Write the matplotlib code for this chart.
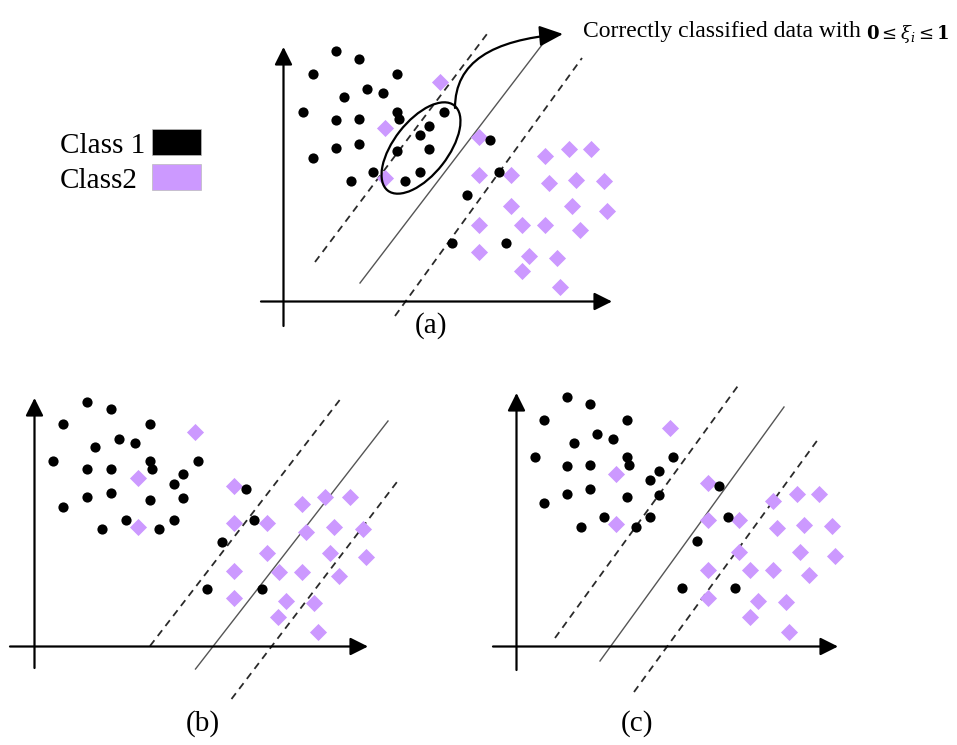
import matplotlib.pyplot as plt
from matplotlib.patches import Ellipse, Rectangle, FancyArrowPatch
from matplotlib.path import Path

# canvas units are pixels of the 957x745 picture (y grows downward)
W, H = 957, 745
PURPLE = '#cc99ff'

# ---- panel (a) ----
a_black_x = [336, 359, 313, 397, 367, 383, 344, 303, 336, 359, 397, 399, 444, 429, 420,
             336, 359, 397, 429, 313, 373, 351, 405, 420, 490, 499, 467, 452, 506]
a_black_y = [51, 59, 74, 74, 89, 93, 97, 112, 120, 119, 112, 119, 112, 126, 135,
             148, 144, 151, 149, 158, 172, 181, 181, 172, 140, 172, 195, 243, 243]
a_purple_x = [440, 385, 385, 479, 545, 569, 591, 479, 511, 549, 576, 604, 511, 572, 607,
              479, 522, 545, 580, 479, 529, 557, 522, 560]
a_purple_y = [82, 128, 178, 137, 156, 149, 149, 175, 175, 183, 180, 181, 206, 206, 211,
              225, 225, 225, 230, 252, 256, 258, 271, 287]
a_axes = dict(ox=283.5, oy=301.5, x0=261, x1=612, y0=326, y1=47)
a_lines = [((315, 262), (490, 30), 'dash'), ((360, 283), (548, 37), 'solid'),
           ((395, 316), (582, 58), 'dash')]

# ---- panel (b) ----
b_black_x = [87, 111, 63, 150, 119, 135, 95, 53, 87, 111, 150, 152, 198, 183, 174,
             87, 111, 150, 183, 63, 126, 102, 159, 174, 246, 254, 222, 207, 262]
b_black_y = [402, 409, 424, 424, 439, 443, 447, 461, 469, 469, 461, 469, 461, 474, 484,
             497, 493, 500, 498, 507, 520, 529, 529, 520, 489, 520, 542, 589, 589]
b_purple_x = [195, 138, 138, 234, 302, 325, 350, 234, 267, 306, 334, 363, 267, 330, 366,
              234, 279, 302, 339, 234, 286, 314, 278, 318]
b_purple_y = [432, 478, 527, 486, 504, 497, 497, 523, 523, 532, 527, 529, 553, 553, 557,
              571, 572, 572, 576, 598, 601, 603, 617, 632]
b_axes = dict(ox=34.5, oy=646.5, x0=10, x1=368, y0=668, y1=398)
b_lines = [((150, 646), (342, 397), 'dash'), ((195.5, 669), (388, 421), 'solid'),
           ((231.5, 699), (400, 478), 'dash')]

# ---- panel (c) ----
c_black_x = [567, 590, 544, 627, 597, 613, 574, 535, 567, 590, 627, 629, 673, 659, 650,
             567, 590, 627, 659, 544, 604, 581, 636, 650, 719, 728, 697, 682, 735]
c_black_y = [397, 404, 420, 420, 434, 439, 443, 457, 466, 465, 457, 465, 457, 471, 480,
             494, 489, 497, 495, 503, 517, 527, 527, 517, 486, 517, 541, 588, 588]
c_purple_x = [670, 616, 616, 708, 773, 797, 819, 708, 739, 777, 804, 832, 739, 800, 835,
              708, 750, 773, 809, 708, 758, 786, 750, 789]
c_purple_y = [428, 474, 524, 483, 501, 494, 494, 520, 520, 528, 525, 526, 552, 552, 556,
              570, 570, 570, 575, 598, 601, 602, 617, 632]
c_axes = dict(ox=516.5, oy=646.5, x0=493, x1=838, y0=670, y1=393)
c_lines = [((555, 638), (740, 383), 'dash'), ((600, 661), (784, 407), 'solid'),
           ((634, 692), (819, 438), 'dash')]

panel_labels = ['(a)', '(b)', '(c)']
panel_label_pos = [(431, 333), (203, 731), (637, 731)]

legend_labels = ['Class 1', 'Class2']
legend_colors = ['black', PURPLE]

plt.rcParams['font.family'] = ['Liberation Serif', 'DejaVu Serif']
plt.rcParams['mathtext.fontset'] = 'dejavuserif'

fig = plt.figure(figsize=(W / 100, H / 100), dpi=100, facecolor='white')
ax = fig.add_axes([0, 0, 1, 1])
ax.set_xlim(0, W)
ax.set_ylim(H, 0)
ax.axis('off')


def draw_axes(ax, spec):
    arrow = dict(arrowstyle='-|>,head_length=0.6,head_width=0.3', lw=1.6,
                 color='black', mutation_scale=18, shrinkA=0, shrinkB=0)
    ax.annotate('', xy=(spec['x1'], spec['oy']), xytext=(spec['x0'], spec['oy']),
                arrowprops=arrow)
    ax.annotate('', xy=(spec['ox'], spec['y1']), xytext=(spec['ox'], spec['y0']),
                arrowprops=arrow)


def draw_lines(ax, lines):
    for (x0, y0), (x1, y1), kind in lines:
        if kind == 'dash':
            ax.plot([x0, x1], [y0, y1], color='#2a2a2a', lw=1.3, dashes=(4, 3))
        else:
            ax.plot([x0, x1], [y0, y1], color='#555555', lw=1.0)


def draw_points(ax, bx, by, px, py):
    ax.scatter(px, py, marker='D', s=76, color=PURPLE, linewidths=0, zorder=3)
    ax.scatter(bx, by, marker='o', s=54, color='black', linewidths=0, zorder=4)


for spec, lines, pts in [
    (a_axes, a_lines, (a_black_x, a_black_y, a_purple_x, a_purple_y)),
    (b_axes, b_lines, (b_black_x, b_black_y, b_purple_x, b_purple_y)),
    (c_axes, c_lines, (c_black_x, c_black_y, c_purple_x, c_purple_y)),
]:
    draw_lines(ax, lines)
    draw_axes(ax, spec)
    draw_points(ax, *pts)

for lab, (x, y) in zip(panel_labels, panel_label_pos):
    ax.text(x, y, lab, fontsize=21, ha='center', va='baseline')

# legend boxes
for i, (lab, col) in enumerate(zip(legend_labels, legend_colors)):
    y_base = 153 + 35 * i
    ax.text(60, y_base, lab, fontsize=21, ha='left', va='baseline')
    ax.add_patch(Rectangle((152, y_base - 24), 49, 25.5, facecolor=col,
                           edgecolor='#bbbbbb', lw=0.5))

# ellipse around margin points and curved callout arrow
ax.add_patch(Ellipse((421, 148), 108, 54, angle=-52, fill=False,
                     edgecolor='black', lw=1.6, zorder=5))
curve = Path([(455, 108), (455, 62), (492, 40), (563, 34)],
             [Path.MOVETO, Path.CURVE4, Path.CURVE4, Path.CURVE4])
ax.add_patch(FancyArrowPatch(path=curve, arrowstyle='-|>,head_length=0.8,head_width=0.35',
                             mutation_scale=18, color='black', lw=1.6, zorder=5))

ax.text(583, 32, 'Correctly classified data with', fontsize=17,
        ha='left', va='center')
ax.text(866, 34, r'$\mathbf{0}{\leq}\boldsymbol{\xi_i}{\leq}\mathbf{1}$', fontsize=13,
        ha='left', va='center')

fig.savefig('out.png', dpi=100, facecolor='white')
plt.close(fig)
